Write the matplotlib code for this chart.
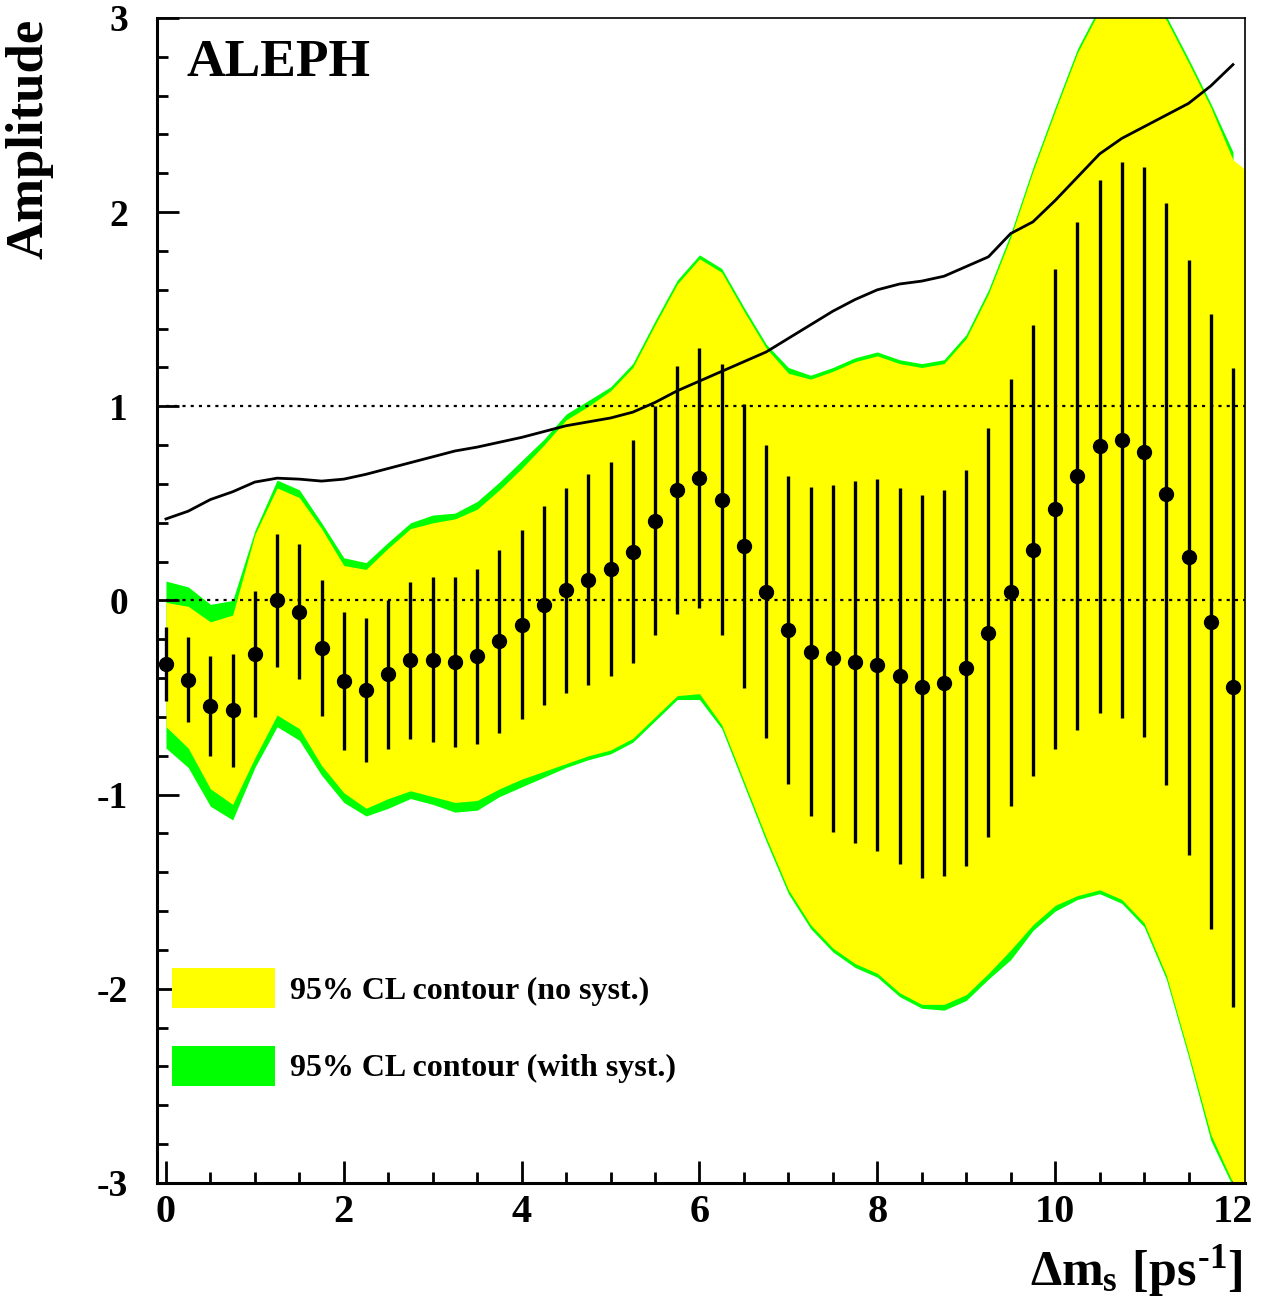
import numpy as np
import matplotlib
matplotlib.use("Agg")
import matplotlib.pyplot as plt
from matplotlib.patches import Patch
from matplotlib.ticker import MultipleLocator

plt.rcParams["font.family"] = ["Liberation Serif", "DejaVu Serif"]
plt.rcParams["font.weight"] = "bold"
plt.rcParams["axes.unicode_minus"] = False
plt.rcParams["mathtext.fontset"] = "custom"
plt.rcParams["mathtext.rm"] = "Liberation Serif:bold"
plt.rcParams["mathtext.it"] = "Liberation Serif:bold"
plt.rcParams["mathtext.bf"] = "Liberation Serif:bold"

# ---- data ----
dms = np.arange(0, 12.01, 0.25)

amplitude = [-0.326, -0.407, -0.544, -0.565, -0.276, 0.0, -0.058, -0.244,
             -0.415, -0.462, -0.381, -0.309, -0.304, -0.317, -0.287, -0.21,
             -0.124, -0.024, 0.053, 0.108, 0.163, 0.252, 0.41, 0.568,
             0.63, 0.52, 0.28, 0.046, -0.153, -0.263, -0.297, -0.317,
             -0.331, -0.39, -0.443, -0.426, -0.346, -0.165, 0.042, 0.258,
             0.47, 0.64, 0.795, 0.828, 0.763, 0.548, 0.222, -0.11, -0.447]

sigma = [0.19, 0.22, 0.257, 0.29, 0.325, 0.343, 0.348, 0.35,
         0.354, 0.37, 0.386, 0.404, 0.426, 0.437, 0.45, 0.47,
         0.485, 0.512, 0.527, 0.541, 0.551, 0.572, 0.59, 0.638,
         0.67, 0.70, 0.73, 0.754, 0.793, 0.846, 0.893, 0.933,
         0.958, 0.967, 0.985, 0.994, 1.02, 1.054, 1.10, 1.163,
         1.235, 1.308, 1.373, 1.431, 1.468, 1.50, 1.534, 1.583, 1.645]

# 1.645 sigma sensitivity curve
sens = [0.42, 0.46, 0.52, 0.56, 0.61, 0.63, 0.625, 0.615,
        0.625, 0.65, 0.68, 0.71, 0.74, 0.77, 0.79, 0.815,
        0.84, 0.87, 0.90, 0.92, 0.94, 0.97, 1.02, 1.08,
        1.13, 1.18, 1.23, 1.28, 1.35, 1.42, 1.49, 1.55,
        1.60, 1.63, 1.645, 1.67, 1.72, 1.77, 1.89, 1.95,
        2.06, 2.18, 2.30, 2.38, 2.44, 2.50, 2.56, 2.65, 2.76]

# 95% CL contour, with systematics (green)
green_up = [0.10, 0.07, -0.02, 0.0, 0.36, 0.62, 0.57, 0.40,
            0.22, 0.195, 0.30, 0.40, 0.44, 0.45, 0.51, 0.61,
            0.72, 0.83, 0.96, 1.03, 1.10, 1.22, 1.44, 1.65,
            1.78, 1.71, 1.51, 1.32, 1.20, 1.16, 1.20, 1.25,
            1.28, 1.24, 1.22, 1.24, 1.37, 1.60, 1.89, 2.23,
            2.54, 2.84, 3.06, 3.20, 3.15, 3.01, 2.79, 2.56, 2.31]
green_lo = [-0.76, -0.86, -1.06, -1.13, -0.86, -0.65, -0.72, -0.90,
            -1.04, -1.11, -1.07, -1.02, -1.05, -1.09, -1.08, -1.01,
            -0.96, -0.91, -0.86, -0.82, -0.79, -0.73, -0.62, -0.51,
            -0.51, -0.66, -0.95, -1.24, -1.51, -1.69, -1.81, -1.89,
            -1.94, -2.04, -2.10, -2.11, -2.06, -1.95, -1.85, -1.70,
            -1.60, -1.54, -1.51, -1.56, -1.68, -1.95, -2.35, -2.78, -3.02]

# 95% CL contour, no systematics (yellow), one extra point past 12
dms_yel = np.arange(0, 12.26, 0.25)
yellow_up = [-0.01, -0.03, -0.11, -0.075, 0.34, 0.58, 0.53, 0.37,
             0.18, 0.16, 0.27, 0.37, 0.40, 0.42, 0.47, 0.57,
             0.68, 0.80, 0.93, 1.00, 1.08, 1.20, 1.42, 1.63,
             1.76, 1.69, 1.49, 1.30, 1.17, 1.14, 1.18, 1.23,
             1.26, 1.22, 1.20, 1.22, 1.35, 1.58, 1.87, 2.21,
             2.52, 2.82, 3.04, 3.18, 3.13, 2.99, 2.77, 2.54, 2.27, 2.18]
yellow_lo = [-0.65, -0.76, -0.97, -1.05, -0.81, -0.59, -0.66, -0.85,
             -0.99, -1.07, -1.02, -0.98, -1.01, -1.04, -1.03, -0.97,
             -0.92, -0.88, -0.84, -0.80, -0.77, -0.71, -0.60, -0.49,
             -0.48, -0.64, -0.93, -1.22, -1.49, -1.67, -1.79, -1.87,
             -1.92, -2.02, -2.08, -2.08, -2.03, -1.92, -1.80, -1.67,
             -1.57, -1.52, -1.49, -1.54, -1.66, -1.93, -2.33, -2.75, -3.0, -3.4]

YELLOW = "#ffff00"
GREEN = "#00ff00"

fig = plt.figure(figsize=(12.66, 13.04), dpi=100)
ax = fig.add_axes([0.124, 0.0928, 0.8594, 0.8934])

ax.fill_between(dms, green_lo, green_up, color=GREEN, lw=0, zorder=1)
ax.fill_between(dms_yel, yellow_lo, yellow_up, color=YELLOW, lw=0, zorder=2)

for yref in (0.0, 1.0):
    ax.plot([0, 12.2], [yref, yref], color="black", lw=1.6,
            ls=(0, (1.4, 2.3)), zorder=3)

ax.plot(dms, sens, color="black", lw=2.0, zorder=4)
ax.errorbar(dms, amplitude, yerr=sigma, fmt="o", color="black", ms=10,
            elinewidth=2.4, capsize=0, zorder=5)

ax.set_xlim(-0.101, 12.135)
ax.set_ylim(-3, 3)
ax.xaxis.set_major_locator(MultipleLocator(2))
ax.xaxis.set_minor_locator(MultipleLocator(0.5))
ax.yaxis.set_major_locator(MultipleLocator(1))
ax.yaxis.set_minor_locator(MultipleLocator(0.2))
ax.tick_params(which="major", direction="in", length=16, width=2,
               top=False, right=False)
ax.tick_params(which="minor", direction="in", length=8, width=2,
               top=False, right=False)
ax.tick_params(axis="y", which="major", labelsize=27, pad=21)
ax.tick_params(axis="x", which="major", labelsize=29, pad=8)
for side in ("left", "bottom"):
    ax.spines[side].set_linewidth(2.2)
for side in ("top", "right"):
    ax.spines[side].set_linewidth(1.2)
for s in ax.spines.values():
    s.set_zorder(10)

ax.text(0.0267, 0.982, "ALEPH", transform=ax.transAxes, fontsize=38.5,
        fontweight="bold", ha="left", va="top")
ax.text(-0.117, 0.999, "Amplitude", transform=ax.transAxes, fontsize=38,
        fontweight="bold", rotation=90, ha="center", va="top")
fig.text(1243 / 1266, 0.004, "$\\Delta m_s\\ [ps^{\u2010 1}]$", fontsize=36,
         ha="right", va="bottom")

handles = [Patch(facecolor=YELLOW, edgecolor="none"),
           Patch(facecolor=GREEN, edgecolor="none")]
ax.legend(handles, ["95% CL contour (no syst.)", "95% CL contour (with syst.)"],
          loc="upper left", bbox_to_anchor=(0.0138, 0.1845), frameon=False,
          fontsize=23, handlelength=3.23, handleheight=1.57, handletextpad=0.47,
          labelspacing=1.16, borderpad=0, borderaxespad=0)

fig.savefig("out.png", dpi=100)
